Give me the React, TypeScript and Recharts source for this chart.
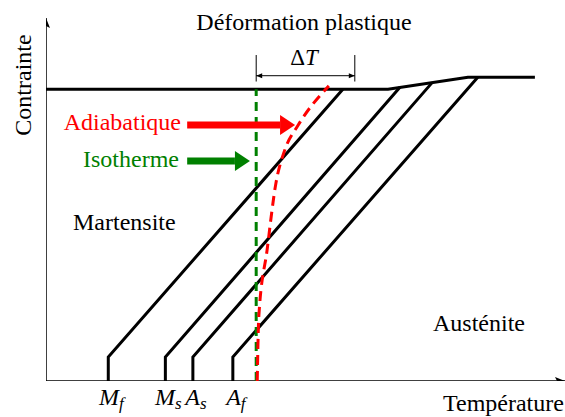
import { ComposedChart, Line, XAxis, YAxis } from 'recharts';

// Températures de transformation (axe horizontal, unités arbitraires 0-100)
const TEMP_NAMES = ['M', 'M', 'A', 'A'];
const TEMP_SUBS = ['f', 's', 's', 'f'];
const TEMP_START = [12, 23, 28.3, 36];

// Chaque droite : départ vertical puis pente jusqu'au palier
const KNEE_STRESS = [6.6, 6.6, 6.6, 6.6];
const TOP_TEMP = [57.2, 68.2, 74.4, 83.2];
const TOP_STRESS = [80.4, 80.9, 82.2, 83.7];

// Palier de déformation plastique
const PLATEAU_TEMP = [0, 65.9, 81.3, 94.2];
const PLATEAU_STRESS = [80.4, 80.4, 83.7, 83.7];

// Chemin isotherme et adiabatique
const ISO_TEMP = 40.5;
const ISO_STRESS = [0, 80.4];
const ADIA_TEMP = [40.7, 41.0, 42.6, 44.3, 46.0, 48.6, 54.5];
const ADIA_STRESS = [0, 17.6, 36.1, 54.5, 63.6, 70.5, 81.3];

// Flèches de légende et cote ΔT
const ADIA_ARROW_TEMP = [27.2, 45.1];
const ADIA_ARROW_STRESS = 70.5;
const ISO_ARROW_TEMP = [27.2, 36.4];
const ISO_ARROW_STRESS = 60.6;
const DELTA_TEMP = [40.5, 59.5];
const DELTA_STRESS = 84.1;
const DELTA_TICK = [82.5, 89.8];

const W = 565;
const H = 417;
const FONT = '"Liberation Serif", "DejaVu Serif", serif';
const RED = '#ff0000';
const GREEN = '#008000';

const pts = (t: number[], s: number[]) => t.map((v, i) => ({ t: v, s: s[i] }));

const transLines = TEMP_START.map((t0, i) => [
  { t: t0, s: 0 },
  { t: t0, s: KNEE_STRESS[i] },
  { t: TOP_TEMP[i], s: TOP_STRESS[i] },
]);

const plateau = pts(PLATEAU_TEMP, PLATEAU_STRESS);
const isoPath = ISO_STRESS.map((s) => ({ t: ISO_TEMP, s }));
const adiaPath = pts(ADIA_TEMP, ADIA_STRESS);
const adiaArrow = ADIA_ARROW_TEMP.map((t) => ({ t, s: ADIA_ARROW_STRESS }));
const isoArrow = ISO_ARROW_TEMP.map((t) => ({ t, s: ISO_ARROW_STRESS }));
const deltaLine = DELTA_TEMP.map((t) => ({ t, s: DELTA_STRESS }));
const deltaTicks = DELTA_TEMP.map((t) => DELTA_TICK.map((s) => ({ t, s })));

const xAxisLine = [{ t: 0, s: 0 }, { t: 100, s: 0 }];
const yAxisLine = [{ t: 0, s: 0 }, { t: 0, s: 100 }];

// big filled arrow head drawn after the last point
const bigHead = (color: string) => (props: any) => {
  const { cx, cy, index } = props;
  if (index !== 1) return <g key={`h${index}`} />;
  return (
    <polygon key={`h${index}`} points={`${cx},${cy - 10} ${cx + 15},${cy} ${cx},${cy + 10}`} fill={color} />
  );
};

const smallHeads = (props: any) => {
  const { cx, cy, index } = props;
  const dir = index === 0 ? -1 : 1;
  return (
    <polygon
      key={`d${index}`}
      points={`${cx},${cy} ${cx - dir * 6},${cy - 2.5} ${cx - dir * 6},${cy + 2.5}`}
      fill="#000"
    />
  );
};

const axisHead = (vertical: boolean) => (props: any) => {
  const { cx, cy, index } = props;
  if (index !== 1) return <g key={`a${index}`} />;
  const p = vertical
    ? `${cx},${cy} ${cx - 4},${cy + 10} ${cx},${cy + 8} ${cx + 4},${cy + 10}`
    : `${cx},${cy} ${cx - 10},${cy - 4} ${cx - 8},${cy} ${cx - 10},${cy + 4}`;
  return <polygon key={`a${index}`} points={p} fill="#000" />;
};

const TempTick = (props: any) => {
  const { x, y, index } = props;
  return (
    <text x={x + 3} y={y + 24} textAnchor="middle" fontFamily={FONT} fontStyle="italic" fill="#000">
      <tspan fontSize={24}>{TEMP_NAMES[index]}</tspan>
      <tspan fontSize={17} dy={4}>{TEMP_SUBS[index]}</tspan>
    </text>
  );
};

export default function App() {
  const txt = { fontFamily: FONT, fontSize: 24 };
  return (
    <div style={{ position: 'absolute', left: 0, top: 0, width: W, height: H, background: '#fff' }}>
      <ComposedChart width={W} height={H} margin={{ top: 18, right: 0, bottom: 0, left: 46 }}>
        <XAxis
          dataKey="t"
          type="number"
          domain={[0, 100]}
          allowDataOverflow
          ticks={TEMP_START}
          interval={0}
          axisLine={false}
          tickLine={false}
          tickSize={0}
          tickMargin={0}
          height={36}
          tick={<TempTick />}
        />
        <YAxis type="number" domain={[0, 100]} allowDataOverflow hide />

        <Line data={xAxisLine} dataKey="s" stroke="#000" strokeWidth={1.5} dot={axisHead(false)} isAnimationActive={false} />
        <Line data={yAxisLine} dataKey="s" stroke="#000" strokeWidth={1.5} dot={axisHead(true)} isAnimationActive={false} />

        <Line data={plateau} dataKey="s" stroke="#000" strokeWidth={3} dot={false} isAnimationActive={false} />
        {transLines.map((d, i) => (
          <Line key={i} data={d} dataKey="s" stroke="#000" strokeWidth={3} dot={false} isAnimationActive={false} />
        ))}

        <Line data={isoPath} dataKey="s" stroke={GREEN} strokeWidth={3} strokeDasharray="9 6" dot={false} isAnimationActive={false} />
        <Line data={adiaPath} dataKey="s" type="monotone" stroke={RED} strokeWidth={3} strokeDasharray="10 6" dot={false} isAnimationActive={false} />

        <Line data={adiaArrow} dataKey="s" stroke={RED} strokeWidth={7} dot={bigHead(RED)} isAnimationActive={false} />
        <Line data={isoArrow} dataKey="s" stroke={GREEN} strokeWidth={7} dot={bigHead(GREEN)} isAnimationActive={false} />

        {deltaTicks.map((d, i) => (
          <Line key={`dt${i}`} data={d} dataKey="s" stroke="#000" strokeWidth={1} dot={false} isAnimationActive={false} />
        ))}
        <Line data={deltaLine} dataKey="s" stroke="#000" strokeWidth={1} dot={smallHeads} isAnimationActive={false} />

        <text x={304} y={30} textAnchor="middle" {...txt}>Déformation plastique</text>
        <text x={304} y={65} textAnchor="middle" fontFamily={FONT} fontSize={23}>
          Δ<tspan fontStyle="italic">T</tspan>
        </text>
        <text x={31} y={85} textAnchor="middle" transform="rotate(-90 31 85)" {...txt}>Contrainte</text>
        <text x={181} y={130} textAnchor="end" fill={RED} {...txt}>Adiabatique</text>
        <text x={179} y={167} textAnchor="end" fill={GREEN} {...txt}>Isotherme</text>
        <text x={73} y={230} {...txt}>Martensite</text>
        <text x={433} y={331} {...txt}>Austénite</text>
        <text x={443} y={411} {...txt}>Température</text>
      </ComposedChart>
    </div>
  );
}
